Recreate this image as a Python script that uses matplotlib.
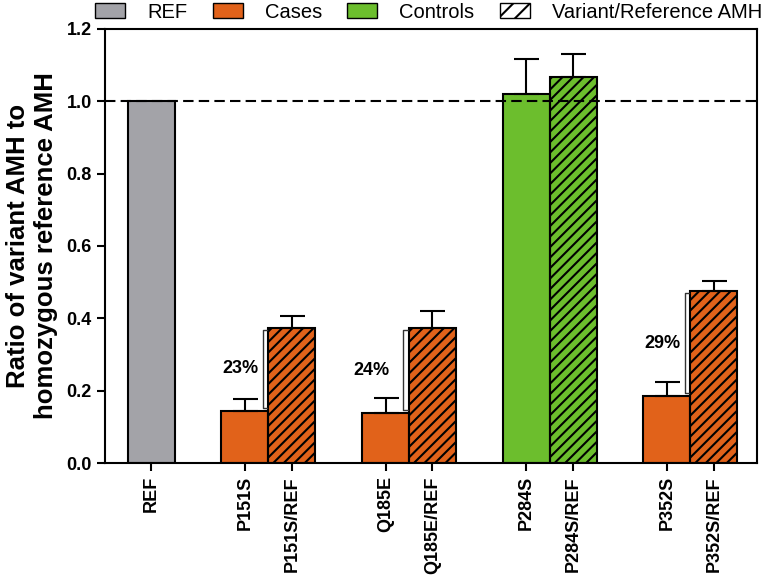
import numpy as np
import matplotlib
matplotlib.use("Agg")
import matplotlib.pyplot as plt
from matplotlib.patches import Patch

plt.rcParams['font.family'] = ['Liberation Sans', 'DejaVu Sans']
plt.rcParams['hatch.linewidth'] = 1.5

labels = ["REF", "P151S", "P151S/REF", "Q185E", "Q185E/REF",
          "P284S", "P284S/REF", "P352S", "P352S/REF"]
positions = [0, 2, 3, 5, 6, 8, 9, 11, 12]
values = [1.0, 0.144, 0.373, 0.138, 0.373, 1.019, 1.066, 0.185, 0.475]
errors = [0.0, 0.033, 0.033, 0.042, 0.047, 0.097, 0.064, 0.039, 0.028]
groups = ["ref", "case", "case", "case", "case", "control", "control", "case", "case"]
hatched = [False, False, True, False, True, False, True, False, True]

pct_labels = ["23%", "24%", "29%"]
pct_pairs = [(2, 3), (5, 6), (11, 12)]
pct_text_gap = [0.1, 0.3, 0.1]

colors = {"ref": "#A3A3A8", "case": "#E1621A", "control": "#6CBE2D"}

fig = plt.figure(figsize=(7.62, 5.85), dpi=100)
ax = fig.add_axes([0.138, 0.2085, 0.8554, 0.742])
ax.set_xlim(-0.98, 12.92)
ax.set_ylim(0, 1.2)

# pixels per data unit, used for the hand drawn 45 degree hatching
p0 = ax.transData.transform((0, 0))
p1 = ax.transData.transform((1, 1))
px_x, px_y = p1 - p0
hatch_step = 10.5  # px between hatch lines

for x, v, e, g, h in zip(positions, values, errors, groups, hatched):
    bar = ax.bar(x, v, width=1.0, color=colors[g], linewidth=0, zorder=2)[0]
    if h:
        w_px = px_x * 1.0
        h_px = px_y * v
        for c in np.arange(-w_px, h_px + hatch_step, hatch_step):
            ln, = ax.plot([x - 0.5, x + 0.5], [c / px_y, (c + w_px) / px_y],
                          color="black", linewidth=1.5, zorder=2.1)
            ln.set_clip_path(bar)
    ax.bar(x, v, width=1.0, fill=False, edgecolor="black", linewidth=1.5, zorder=2.2)
    if e > 0:
        ax.errorbar(x, v, yerr=[[0], [e]], fmt="none", ecolor="black",
                    elinewidth=1.5, capsize=9, capthick=1.5, zorder=3)

ax.axhline(1.0, color="black", linestyle=(0, (5, 2.5)), linewidth=1.5, zorder=4)

# brackets with percentages
for txt, (a, b), gap in zip(pct_labels, pct_pairs, pct_text_gap):
    lo = values[positions.index(a)] + 0.008
    hi = values[positions.index(b)] - 0.005
    bx = a + 0.38
    ax.plot([bx + 0.1, bx, bx, bx + 0.1], [hi, hi, lo, lo], color="#333333",
            linewidth=1.0, zorder=3)
    ax.text(bx - gap, (lo + hi) / 2, txt, ha="right", va="center",
            fontsize=13, fontweight="bold")

ax.set_yticks(np.arange(0, 1.21, 0.2))
ax.set_yticklabels([f"{t:.1f}" for t in np.arange(0, 1.21, 0.2)],
                   fontsize=13, fontweight="bold")
ax.set_xticks(positions)
ax.set_xticklabels(labels, rotation=90, fontsize=13, fontweight="bold")
ax.tick_params(axis="both", direction="out", length=6, width=1.5)

for s in ax.spines.values():
    s.set_linewidth(1.5)

ax.set_ylabel("Ratio of variant AMH to\nhomozygous reference AMH",
              fontsize=18.5, fontweight="bold", labelpad=6)

handles = [Patch(facecolor=colors["ref"], edgecolor="black", label="REF"),
           Patch(facecolor=colors["case"], edgecolor="black", label="Cases"),
           Patch(facecolor=colors["control"], edgecolor="black", label="Controls"),
           Patch(facecolor="white", edgecolor="black", hatch="//",
                 label="Variant/Reference AMH")]
fig.legend(handles=handles, loc="center", bbox_to_anchor=(0.5624, 0.979),
           ncol=4, frameon=False, fontsize=14.5, handlelength=1.49,
           handleheight=0.8, handletextpad=1.1, columnspacing=1.25, borderpad=0)

fig.savefig("out.png", dpi=100)
